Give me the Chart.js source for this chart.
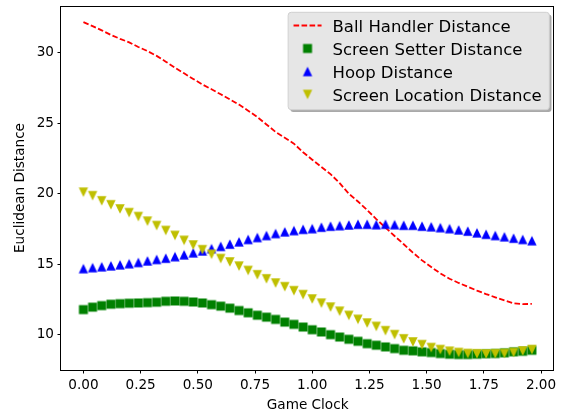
<!DOCTYPE html>
<html>
<head>
<meta charset="utf-8">
<script src="https://cdn.jsdelivr.net/npm/chart.js@4/dist/chart.umd.min.js"></script>
<style>
html,body{margin:0;padding:0;background:#fff;}
canvas{display:block;}
</style>
</head>
<body>
<canvas id="c" width="565" height="417"></canvas>
<script>
// ---- data ----
const gameClock = [0.00,0.04,0.08,0.12,0.16,0.20,0.24,0.28,0.32,0.36,
  0.40,0.44,0.48,0.52,0.56,0.60,0.64,0.68,0.72,0.76,
  0.80,0.84,0.88,0.92,0.96,1.00,1.04,1.08,1.12,1.16,
  1.20,1.24,1.28,1.32,1.36,1.40,1.44,1.48,1.52,1.56,
  1.60,1.64,1.68,1.72,1.76,1.80,1.84,1.88,1.92,1.96];

const ballHandler = [32.18,31.90,31.60,31.28,31.00,30.75,30.42,30.13,29.79,29.38,
  28.95,28.55,28.15,27.76,27.42,27.06,26.70,26.33,25.90,25.45,
  24.92,24.39,23.98,23.56,22.95,22.42,21.90,21.40,20.75,20.00,
  19.45,18.85,18.20,17.60,17.00,16.42,15.82,15.27,14.80,14.35,
  13.97,13.67,13.40,13.13,12.88,12.65,12.43,12.23,12.17,12.18];

const screenSetter = [11.78,11.95,12.06,12.16,12.20,12.23,12.25,12.27,12.30,12.37,
  12.39,12.37,12.32,12.25,12.13,12.02,11.88,11.71,11.55,11.38,
  11.24,11.08,10.89,10.73,10.54,10.35,10.19,10.00,9.83,9.67,
  9.53,9.36,9.25,9.13,9.01,8.89,8.85,8.78,8.73,8.66,
  8.61,8.59,8.59,8.61,8.64,8.66,8.71,8.78,8.82,8.89];

const hoop = [14.69,14.76,14.82,14.89,14.96,15.04,15.13,15.24,15.34,15.43,
  15.54,15.67,15.81,15.95,16.11,16.27,16.43,16.59,16.76,16.90,
  17.04,17.18,17.30,17.39,17.48,17.53,17.63,17.70,17.74,17.79,
  17.84,17.84,17.81,17.84,17.81,17.77,17.77,17.70,17.66,17.60,
  17.53,17.44,17.35,17.23,17.13,17.04,16.95,16.85,16.76,16.67];

const screenLocation = [20.11,19.86,19.50,19.22,18.92,18.66,18.38,18.05,17.74,17.39,
  17.04,16.69,16.36,16.03,15.70,15.40,15.16,14.86,14.55,14.25,
  13.96,13.66,13.40,13.12,12.84,12.53,12.23,11.95,11.66,11.36,
  11.08,10.82,10.58,10.28,10.00,9.70,9.48,9.29,9.08,8.94,
  8.82,8.73,8.66,8.64,8.63,8.64,8.66,8.73,8.84,8.94];

const seriesLabels = ['Ball Handler Distance','Screen Setter Distance','Hoop Distance','Screen Location Distance'];
const xTicks = [0, 0.25, 0.5, 0.75, 1.0, 1.25, 1.5, 1.75, 2.0];
const yTicks = [10, 15, 20, 25, 30];
const xTitle = 'Game Clock';
const yTitle = 'Euclidean Distance';

// ---- marker images (matplotlib-like: centred on bounding box) ----
function makeMarker(shape, color, size) {
  const c = document.createElement('canvas');
  c.width = 14; c.height = 14;
  const g = c.getContext('2d');
  const cx = 7, cy = 7, h = size / 2;
  g.fillStyle = color;
  g.beginPath();
  if (shape === 'square') {
    g.rect(cx - h, cy - h, size, size);
  } else if (shape === 'up') {
    g.moveTo(cx, cy - h); g.lineTo(cx + h, cy + h); g.lineTo(cx - h, cy + h);
  } else {
    g.moveTo(cx, cy + h); g.lineTo(cx + h, cy - h); g.lineTo(cx - h, cy - h);
  }
  g.closePath();
  g.fill();
  return c;
}
const mSquare = makeMarker('square', '#008000', 9);
const mUp = makeMarker('up', '#0000ff', 9.4);
const mDown = makeMarker('down', '#bfbf00', 9.4);

const toPts = (vals) => vals.map((v, i) => ({x: gameClock[i], y: v}));

const dashPattern = [5.6, 2.4];

// ---- plugins ----
const framePlugin = {
  id: 'frame',
  afterDatasetsDraw(chart) {
    const {ctx, chartArea: a} = chart;
    ctx.save();
    ctx.strokeStyle = '#000';
    ctx.lineWidth = 1;
    const l = Math.round(a.left) - 0.5, t = Math.round(a.top) + 0.5;
    const r = Math.round(a.right) - 0.5, b = Math.round(a.bottom) + 0.5;
    ctx.strokeRect(l, t, r - l, b - t);
    ctx.restore();
  }
};

const legendPlugin = {
  id: 'mplLegend',
  afterDraw(chart) {
    const {ctx, chartArea: a} = chart;
    const fs = 16.5;
    ctx.save();
    ctx.font = fs + 'px "DejaVu Sans", sans-serif';
    const labels = chart.data.datasets.map(d => d.label);
    const tw = Math.max(...labels.map(l => ctx.measureText(l).width));
    const padL = 5.4, hLen = 28, gap = 11, padR = 7.6;
    const w = padL + hLen + gap + tw + padR;
    const h = 97.4;
    const right = a.right - 5;
    const left = right - w;
    const top = a.top + 6.3;
    const rad = 3;
    function rr(x, y, ww, hh) {
      ctx.beginPath();
      ctx.moveTo(x + rad, y);
      ctx.lineTo(x + ww - rad, y);
      ctx.arcTo(x + ww, y, x + ww, y + rad, rad);
      ctx.lineTo(x + ww, y + hh - rad);
      ctx.arcTo(x + ww, y + hh, x + ww - rad, y + hh, rad);
      ctx.lineTo(x + rad, y + hh);
      ctx.arcTo(x, y + hh, x, y + hh - rad, rad);
      ctx.lineTo(x, y + rad);
      ctx.arcTo(x, y, x + rad, y, rad);
      ctx.closePath();
    }
    // shadow
    ctx.fillStyle = '#a9a9a9';
    rr(left + 2.2, top + 2.2, w, h);
    ctx.fill();
    // box
    ctx.fillStyle = '#e6e6e6';
    rr(left, top, w, h);
    ctx.fill();
    ctx.strokeStyle = '#d0d0d0';
    ctx.lineWidth = 1;
    ctx.stroke();

    const hx0 = left + padL, hx1 = hx0 + hLen, hcx = (hx0 + hx1) / 2;
    const tx = hx1 + gap;
    chart.data.datasets.forEach((d, i) => {
      const cy = top + 13.2 + i * 23;
      if (d.showLine) {
        ctx.save();
        ctx.strokeStyle = d.borderColor;
        ctx.lineWidth = d.borderWidth;
        ctx.setLineDash(d.borderDash || []);
        ctx.beginPath();
        ctx.moveTo(hx0, cy); ctx.lineTo(hx1, cy);
        ctx.stroke();
        ctx.restore();
      } else {
        const img = d.pointStyle;
        ctx.drawImage(img, hcx - img.width / 2, cy - img.height / 2);
      }
      ctx.fillStyle = '#000';
      ctx.textBaseline = 'alphabetic';
      ctx.textAlign = 'left';
      ctx.fillText(d.label, tx, cy + 6.1);
    });
    ctx.restore();
  }
};

Chart.defaults.font.family = '"DejaVu Sans", sans-serif';
Chart.defaults.font.size = 13.6;
Chart.defaults.color = '#000';

new Chart(document.getElementById('c'), {
  type: 'scatter',
  data: {
    datasets: [
      {label: seriesLabels[0], data: toPts(ballHandler), showLine: true,
       borderColor: '#ff0000', backgroundColor: '#ff0000', borderWidth: 1.8,
       borderDash: dashPattern, pointRadius: 0, tension: 0, fill: false, order: 4},
      {label: seriesLabels[1], data: toPts(screenSetter), pointStyle: mSquare,
       pointRadius: 5, order: 3},
      {label: seriesLabels[2], data: toPts(hoop), pointStyle: mUp,
       pointRadius: 5, order: 2},
      {label: seriesLabels[3], data: toPts(screenLocation), pointStyle: mDown,
       pointRadius: 5, order: 1}
    ]
  },
  options: {
    responsive: false,
    animation: false,
    devicePixelRatio: 1,
    layout: {padding: {left: 0, top: 3, right: 10.7, bottom: 0}},
    plugins: {legend: {display: false}, tooltip: {enabled: false}},
    events: [],
    scales: {
      x: {
        type: 'linear', min: -0.098, max: 2.058,
        afterBuildTicks: (s) => { s.ticks = xTicks.map(v => ({value: v})); },
        afterFit: (s) => { s.height = 47; s.paddingLeft = 0; s.paddingRight = 0; },
        ticks: {callback: (v) => Number(v).toFixed(2), padding: 4, maxRotation: 0, autoSkip: false,
                font: {size: 13.6}},
        grid: {drawOnChartArea: false, drawTicks: true, tickLength: 3.5, color: '#000', lineWidth: 1},
        border: {display: false},
        title: {display: true, text: xTitle, font: {size: 13.6}, padding: {top: 0, bottom: 3.8}}
      },
      y: {
        type: 'linear', min: 7.49, max: 33.33,
        afterBuildTicks: (s) => { s.ticks = yTicks.map(v => ({value: v})); },
        afterFit: (s) => { s.width = 61; s.paddingTop = 0; s.paddingBottom = 0; },
        ticks: {callback: (v) => String(v), padding: 3.5, font: {size: 13.6}},
        grid: {drawOnChartArea: false, drawTicks: true, tickLength: 3.5, color: '#000', lineWidth: 1},
        border: {display: false},
        title: {display: true, text: yTitle, font: {size: 13.6}, padding: {top: 12.5, bottom: 0}}
      }
    }
  },
  plugins: [framePlugin, legendPlugin]
});
</script>
</body>
</html>
